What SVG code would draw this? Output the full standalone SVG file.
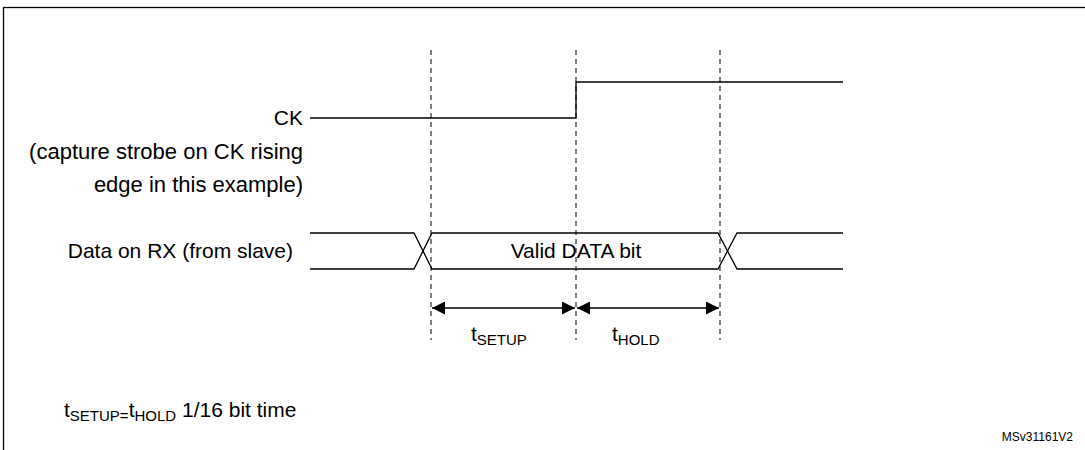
<svg xmlns="http://www.w3.org/2000/svg" width="1085" height="450" viewBox="0 0 1085 450">
<style>
text{font-family:"Liberation Sans",Arial,sans-serif;font-size:21px;fill:#000}
.s{fill:none;stroke:#000;stroke-width:1.3}
.d{fill:none;stroke:#000;stroke-width:1;stroke-dasharray:5,4}
.sub{font-size:15px}
.big{font-size:22px}
.sm{font-size:12px}
</style>
<defs><marker id="a" viewBox="0 0 10 10" refX="10" refY="5" markerWidth="16" markerHeight="13" orient="auto-start-reverse" markerUnits="userSpaceOnUse"><path d="M0,0L10,5L0,10z" fill="#000"/></marker></defs>
<rect x="0" y="0" width="1085" height="450" fill="#fff"/>
<rect x="3.5" y="7.5" width="1090" height="450" class="s" stroke-width="1.5"/>
<g id="guides"><line class="d" x1="431" y1="50" x2="431" y2="340"/><line class="d" x1="576" y1="50" x2="576" y2="340"/><line class="d" x1="720" y1="50" x2="720" y2="340"/></g>
<g id="ck"><polyline class="s" points="310,118 576,118 576,82 843,82"/>
<text x="303" y="125" text-anchor="end">CK</text>
<text x="303" y="159" text-anchor="end" class="big">(capture strobe on CK rising</text>
<text x="303" y="192" text-anchor="end" class="big">edge in this example)</text></g>
<g id="data"><polyline class="s" points="310,233 414,233 432,269 718,269 737,233 843,233"/>
<polyline class="s" points="310,269 414,269 432,233 718,233 737,269 843,269"/>
<text x="293" y="258" text-anchor="end">Data on RX (from slave)</text>
<text x="576" y="258" text-anchor="middle">Valid DATA bit</text></g>
<g id="connectors"><line class="s" x1="432" y1="308" x2="575" y2="308" marker-start="url(#a)" marker-end="url(#a)"/>
<line class="s" x1="577" y1="308" x2="719" y2="308" marker-start="url(#a)" marker-end="url(#a)"/></g>
<g id="labels"><text x="471" y="341">t<tspan class="sub" dy="4">SETUP</tspan></text>
<text x="612" y="341">t<tspan class="sub" dy="4">HOLD</tspan></text>
<text x="64" y="417">t<tspan class="sub" dy="4">SETUP=</tspan><tspan dy="-4">t</tspan><tspan class="sub" dy="4">HOLD</tspan><tspan dy="-4"> 1/16 bit time</tspan></text>
<text x="1073" y="441" text-anchor="end" class="sm">MSv31161V2</text></g>
</svg>
